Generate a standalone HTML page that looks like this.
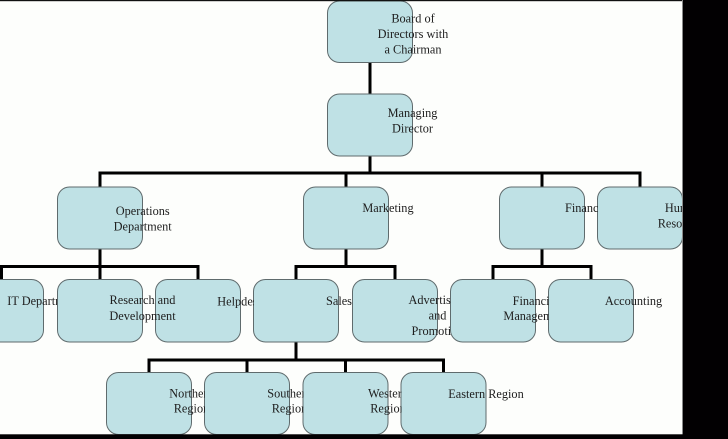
<!DOCTYPE html>
<html><head><meta charset="utf-8"><style>
html,body{margin:0;padding:0;background:#fdfefc;}
svg{display:block;}
text{font-family:"Liberation Serif","Times New Roman",serif;font-size:12.3px;fill:#1e1e1e;text-anchor:middle;}
</style></head><body>
<svg width="728" height="439" viewBox="0 0 728 439" xmlns="http://www.w3.org/2000/svg">
<defs>
<clipPath id="cFin"><rect x="0" y="0" width="598" height="439"/></clipPath>
<clipPath id="cHR"><rect x="0" y="0" width="682" height="439"/></clipPath>
<clipPath id="cIT"><rect x="0" y="0" width="57" height="439"/></clipPath>
<clipPath id="cHelp"><rect x="0" y="0" width="254" height="439"/></clipPath>
<clipPath id="cAdv"><rect x="0" y="0" width="451" height="439"/></clipPath>
<clipPath id="cFM"><rect x="0" y="0" width="549" height="439"/></clipPath>
<clipPath id="cN"><rect x="0" y="0" width="205" height="439"/></clipPath>
<clipPath id="cS"><rect x="0" y="0" width="303.5" height="439"/></clipPath>
<clipPath id="cW"><rect x="0" y="0" width="401.5" height="439"/></clipPath>
</defs>
<rect x="0" y="0" width="728" height="439" fill="#fdfefc"/>

<!-- connectors -->
<g stroke="#000" stroke-width="3" fill="none">
<line x1="370" y1="62" x2="370" y2="94"/>
<line x1="370" y1="156" x2="370" y2="173"/>
<line x1="98.5" y1="173" x2="641.5" y2="173"/>
<line x1="100" y1="173" x2="100" y2="187"/>
<line x1="346" y1="173" x2="346" y2="187"/>
<line x1="542" y1="173" x2="542" y2="187"/>
<line x1="640" y1="173" x2="640" y2="187"/>

<line x1="100" y1="249" x2="100" y2="280"/>
<line x1="0" y1="266.5" x2="199.5" y2="266.5"/>
<line x1="1.5" y1="266.5" x2="1.5" y2="280"/>
<line x1="198" y1="266.5" x2="198" y2="280"/>

<line x1="346" y1="249" x2="346" y2="266.5"/>
<line x1="294.5" y1="266.5" x2="396.5" y2="266.5"/>
<line x1="296" y1="266.5" x2="296" y2="280"/>
<line x1="395" y1="266.5" x2="395" y2="280"/>

<line x1="542" y1="249" x2="542" y2="266.5"/>
<line x1="491.5" y1="266.5" x2="592.5" y2="266.5"/>
<line x1="493" y1="266.5" x2="493" y2="280"/>
<line x1="591" y1="266.5" x2="591" y2="280"/>

<line x1="296" y1="342" x2="296" y2="360"/>
<line x1="147.5" y1="360" x2="445" y2="360"/>
<line x1="149" y1="360" x2="149" y2="373"/>
<line x1="247" y1="360" x2="247" y2="373"/>
<line x1="345.5" y1="360" x2="345.5" y2="373"/>
<line x1="443.5" y1="360" x2="443.5" y2="373"/>
</g>

<!-- boxes -->
<g fill="#bfe1e5" stroke="#5f6b6d" stroke-width="1">
<rect x="327.5" y="1" width="85" height="61.5" rx="12"/>
<rect x="327.5" y="94" width="85" height="62" rx="12"/>
<rect x="57.5" y="187" width="85" height="62" rx="12"/>
<rect x="303.5" y="187" width="85" height="62" rx="12"/>
<rect x="499.5" y="187" width="85" height="62" rx="12"/>
<rect x="597.5" y="187" width="85" height="62" rx="12"/>
<rect x="-41.5" y="279.5" width="85" height="62.5" rx="12"/>
<rect x="57.5" y="279.5" width="85" height="62.5" rx="12"/>
<rect x="155.5" y="279.5" width="85" height="62.5" rx="12"/>
<rect x="253.5" y="279.5" width="85" height="62.5" rx="12"/>
<rect x="352.5" y="279.5" width="85" height="62.5" rx="12"/>
<rect x="450.5" y="279.5" width="85" height="62.5" rx="12"/>
<rect x="548.5" y="279.5" width="85" height="62.5" rx="12"/>
<rect x="106.5" y="372.5" width="85" height="62" rx="12"/>
<rect x="204.5" y="372.5" width="85" height="62" rx="12"/>
<rect x="303" y="372.5" width="85" height="62" rx="12"/>
<rect x="401" y="372.5" width="85" height="62" rx="12"/>
</g>

<!-- labels -->
<text x="413" y="22.5">Board of</text>
<text x="413" y="38">Directors with</text>
<text x="413" y="53.5">a Chairman</text>

<text x="412.5" y="117">Managing</text>
<text x="412.5" y="132.5">Director</text>

<text x="142.7" y="215">Operations</text>
<text x="142.7" y="230.5">Department</text>

<text x="388" y="212">Marketing</text>

<text x="584.5" y="212" clip-path="url(#cFin)">Finance</text>

<g clip-path="url(#cHR)">
<text x="683" y="212">Human</text>
<text x="683" y="227.5">Resources</text>
</g>

<text x="43.5" y="305" clip-path="url(#cIT)">IT Department</text>

<text x="142.5" y="304">Research and</text>
<text x="142.5" y="320">Development</text>

<text x="240.5" y="305.5" clip-path="url(#cHelp)">Helpdesk</text>

<text x="339" y="305">Sales</text>

<g clip-path="url(#cAdv)">
<text x="437.5" y="304">Advertising</text>
<text x="437.5" y="319.5">and</text>
<text x="437.5" y="335">Promotion</text>
</g>

<g clip-path="url(#cFM)">
<text x="535.5" y="305">Financial</text>
<text x="535.5" y="320">Management</text>
</g>

<text x="633.5" y="305">Accounting</text>

<g clip-path="url(#cN)">
<text x="191.5" y="397.3">Northern</text>
<text x="191.5" y="412.3">Region</text>
</g>
<g clip-path="url(#cS)">
<text x="289.5" y="397.3">Southern</text>
<text x="289.5" y="412.3">Region</text>
</g>
<g clip-path="url(#cW)">
<text x="388" y="397.3">Western</text>
<text x="388" y="412.3">Region</text>
</g>
<text x="486" y="398">Eastern Region</text>

<!-- frame -->
<rect x="0" y="0" width="728" height="1.2" fill="#111"/>
<rect x="682" y="0" width="1" height="439" fill="#8a8a8a"/>
<rect x="683" y="0" width="45" height="439" fill="#020002"/>
<rect x="0" y="434.3" width="728" height="5" fill="#020002"/>
</svg>
</body></html>
